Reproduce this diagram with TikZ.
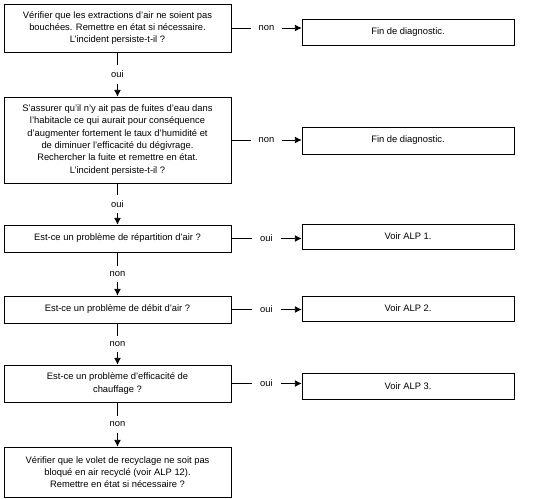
\documentclass[tikz,border=0pt]{standalone}
\usepackage{fontspec}
\setmainfont{Liberation Sans}
\usetikzlibrary{arrows.meta}
\begin{document}
\begin{tikzpicture}[x=0.03cm,y=-0.03cm,line width=0.6pt,>={Latex[length=0.2cm,width=0.2cm]},
                        question/.style={draw,align=center,minimum width=6.81cm,inner sep=0pt,font=\fontsize{8}{10.5}\selectfont},
                        answer/.style={draw,align=center,minimum width=6.36cm,inner sep=0pt,font=\fontsize{8}{10.5}\selectfont},
                        hlab/.style={fill=white,inner xsep=0.24cm,inner ysep=1pt,font=\fontsize{8}{10}\selectfont},
                        vlab/.style={fill=white,inner xsep=1pt,inner ysep=0.17cm,font=\fontsize{8}{10}\selectfont}]
                        \useasboundingbox (0,0) rectangle (533,498);
                        % questions on the left
                        \node[question,minimum height=1.44cm] (q1) at (117.5,28) {V\'erifier que les extractions d'air ne soient pas\\ bouch\'ees. Remettre en \'etat si n\'ecessaire.\\ L'incident persiste-t-il ?};
                        \node[question,minimum height=2.58cm] (q2) at (117.5,140) {S'assurer qu'il n'y ait pas de fuites d'eau dans\\ l'habitacle ce qui aurait pour cons\'equence\\ d'augmenter fortement le taux d'humidit\'e et\\ de diminuer l'efficacit\'e du d\'egivrage.\\ Rechercher la fuite et remettre en \'etat.\\ L'incident persiste-t-il ?};
                        \node[question,minimum height=0.81cm] (q3) at (117.5,238.5) {Est-ce un probl\`eme de r\'epartition d'air ?};
                        \node[question,minimum height=0.81cm] (q4) at (117.5,309.5) {Est-ce un probl\`eme de d\'ebit d'air ?};
                        \node[question,minimum height=1.11cm] (q5) at (117.5,383.5) {Est-ce un probl\`eme d'efficacit\'e de\\ chauffage ?};
                        \node[question,minimum height=1.5cm] (q6) at (117.5,472) {V\'erifier que le volet de recyclage ne soit pas\\ bloqu\'e en air recycl\'e (voir ALP 12).\\ Remettre en \'etat si n\'ecessaire ?};
                        % results on the right
                        \node[answer,minimum height=0.78cm] (r1) at (408,32) {Fin de diagnostic.};
                        \node[answer,minimum height=0.81cm] (r2) at (408,140.5) {Fin de diagnostic.};
                        \node[answer,minimum height=0.75cm] (r3) at (408,236.5) {Voir ALP 1.};
                        \node[answer,minimum height=0.75cm] (r4) at (408,308.5) {Voir ALP 2.};
                        \node[answer,minimum height=0.78cm] (r5) at (408,386) {Voir ALP 3.};
                        % connectors
                        \draw[->] (q1.east) -- (q1.east -| r1.west) node[midway,hlab]{non};
                        \draw[->] (q2.east) -- (q2.east -| r2.west) node[midway,hlab]{non};
                        \draw[->] (q3.east) -- (q3.east -| r3.west) node[midway,hlab]{oui};
                        \draw[->] (q4.east) -- (q4.east -| r4.west) node[midway,hlab]{oui};
                        \draw[->] (q5.east) -- (q5.east -| r5.west) node[midway,hlab]{oui};
                        \draw[->] (q1.south) -- (q2.north) node[midway,vlab]{oui};
                        \draw[->] (q2.south) -- (q3.north) node[midway,vlab]{oui};
                        \draw[->] (q3.south) -- (q4.north) node[midway,vlab]{non};
                        \draw[->] (q4.south) -- (q5.north) node[midway,vlab]{non};
                        \draw[->] (q5.south) -- (q6.north) node[midway,vlab]{non};
                    \end{tikzpicture}
\end{document}
